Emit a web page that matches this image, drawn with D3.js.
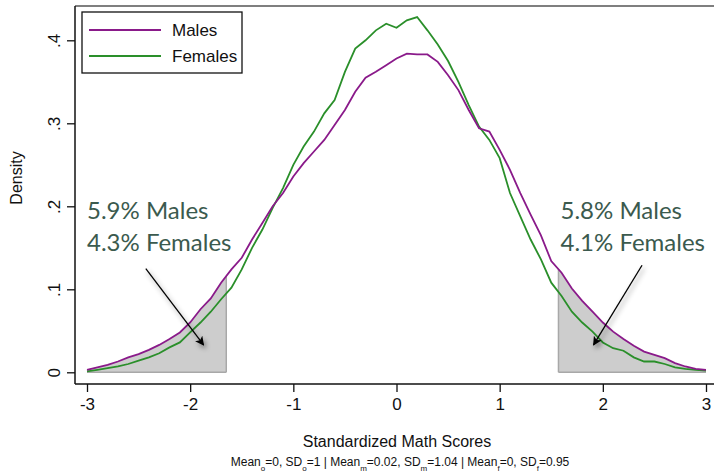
<!DOCTYPE html>
<html>
<head>
<meta charset="utf-8">
<script src="https://cdn.jsdelivr.net/npm/d3@7"></script>
<style>
  body { margin: 0; background: #fff; }
  svg { display: block; }
  .axis text { font-family: "Liberation Sans Narrow", "Arial Narrow", "Liberation Sans", sans-serif; }
</style>
</head>
<body>
<div id="vis-holder"></div>
<script>
// Chart size
const width = 715;
const height = 474;

// Density values, x from -3 to 3 in steps of 0.1
const scores = d3.range(61).map(i => -3 + i * 0.1);
const males = [
  0.003, 0.006, 0.009, 0.013, 0.018, 0.022, 0.027, 0.033, 0.040, 0.048,
  0.060, 0.076, 0.089, 0.108, 0.124, 0.138, 0.160, 0.180, 0.200, 0.216,
  0.236, 0.252, 0.266, 0.280, 0.298, 0.316, 0.338, 0.355, 0.362, 0.370,
  0.378, 0.384, 0.383, 0.383, 0.374, 0.358, 0.340, 0.316, 0.294, 0.290,
  0.268, 0.244, 0.216, 0.190, 0.165, 0.134, 0.120, 0.101, 0.086, 0.073,
  0.060, 0.049, 0.040, 0.032, 0.025, 0.021, 0.017, 0.011, 0.007, 0.004,
  0.003
];
const females = [
  0.001, 0.003, 0.005, 0.007, 0.010, 0.014, 0.018, 0.023, 0.030, 0.036,
  0.048, 0.060, 0.073, 0.088, 0.102, 0.124, 0.150, 0.172, 0.198, 0.222,
  0.250, 0.272, 0.290, 0.312, 0.328, 0.362, 0.390, 0.400, 0.412, 0.420,
  0.415, 0.424, 0.428, 0.412, 0.395, 0.375, 0.350, 0.322, 0.296, 0.280,
  0.258, 0.216, 0.188, 0.160, 0.136, 0.108, 0.092, 0.073, 0.060, 0.049,
  0.036, 0.029, 0.026, 0.018, 0.013, 0.013, 0.010, 0.006, 0.004, 0.003,
  0.002
];

// Tick labels
const xTicks = [-3, -2, -1, 0, 1, 2, 3];
const yTicks = [0, 0.1, 0.2, 0.3, 0.4];
const yTickLabels = ["0", ".1", ".2", ".3", ".4"];

// Tail cut points and the notes on them
const tailCuts = [[-3, -1.65], [1.57, 3]];
const tailNotes = [
  { lines: ["5.9% Males", "4.3% Females"], x: -3.0, from: [-2.43, 0.125], to: [-1.87, 0.033] },
  { lines: ["5.8% Males", "4.1% Females"], x: 1.59, from: [2.38, 0.129], to: [1.91, 0.033] }
];

const seriesNames = ["Males", "Females"];
const seriesColors = ["#8a1a8a", "#2a8f2a"];

const narrow = "'Liberation Sans Narrow', 'Arial Narrow', 'Liberation Sans', sans-serif";

const svg = d3.select("#vis-holder")
  .append("svg")
  .attr("width", width)
  .attr("height", height);

// Scales
const x = d3.scaleLinear().domain([-3, 3]).range([87, 706]);
const y = d3.scaleLinear().domain([0, 0.4]).range([372.3, 40.3]);

const maleData = scores.map((s, i) => ({ s: s, d: males[i] }));
const femaleData = scores.map((s, i) => ({ s: s, d: females[i] }));

// Shadow for the arrows
const defs = svg.append("defs");
const shadow = defs.append("filter").attr("id", "shadow")
  .attr("x", "-50%").attr("y", "-50%").attr("width", "200%").attr("height", "200%");
shadow.append("feDropShadow")
  .attr("dx", 2).attr("dy", 3).attr("stdDeviation", 2.5)
  .attr("flood-color", "#000").attr("flood-opacity", 0.45);

defs.append("marker")
  .attr("id", "head")
  .attr("viewBox", "0 0 10 10")
  .attr("refX", 9).attr("refY", 5)
  .attr("markerWidth", 9).attr("markerHeight", 9)
  .attr("markerUnits", "userSpaceOnUse")
  .attr("orient", "auto")
  .append("path")
  .attr("d", "M0,0 L10,5 L0,10 L2.5,5 Z")
  .attr("fill", "#000");

// Male density at a cut point on the drawn line
function maleAt(v) {
  const i = Math.min(Math.floor((v + 3) / 0.1), scores.length - 2);
  const t = (v - scores[i]) / 0.1;
  return males[i] + t * (males[i + 1] - males[i]);
}

// Shaded tails under the male curve
const area = d3.area()
  .x(d => x(d.s))
  .y0(y(0))
  .y1(d => y(d.d));

tailCuts.forEach((c, k) => {
  defs.append("clipPath").attr("id", "tail" + k)
    .append("rect")
    .attr("x", x(c[0]))
    .attr("y", 0)
    .attr("width", x(c[1]) - x(c[0]))
    .attr("height", height);

  svg.append("path")
    .datum(maleData)
    .attr("clip-path", `url(#tail${k})`)
    .attr("d", area)
    .attr("fill", "#cdcdcd");

  // grey outline along the bottom and the cut
  svg.append("line")
    .attr("x1", x(c[0])).attr("x2", x(c[1]))
    .attr("y1", y(0)).attr("y2", y(0))
    .attr("stroke", "#a8a8a8").attr("stroke-width", 1.5);
  const edge = k === 0 ? c[1] : c[0];
  svg.append("line")
    .attr("x1", x(edge)).attr("x2", x(edge))
    .attr("y1", y(0)).attr("y2", y(maleAt(edge)))
    .attr("stroke", "#a8a8a8").attr("stroke-width", 1.5);
});

// Density lines
const line = d3.line()
  .x(d => x(d.s))
  .y(d => y(d.d));

svg.append("path")
  .datum(femaleData)
  .attr("d", line)
  .attr("fill", "none")
  .attr("stroke", seriesColors[1])
  .attr("stroke-width", 1.8);

svg.append("path")
  .datum(maleData)
  .attr("d", line)
  .attr("fill", "none")
  .attr("stroke", seriesColors[0])
  .attr("stroke-width", 1.8);

// Frame: top line, y axis, x axis
svg.append("line")
  .attr("x1", 75).attr("x2", 714).attr("y1", 6).attr("y2", 6)
  .attr("stroke", "#555").attr("stroke-width", 1.5);

const xAxis = svg.append("g")
  .attr("class", "axis")
  .attr("transform", "translate(0,384)")
  .call(d3.axisBottom(x).tickValues(xTicks).tickSize(8).tickSizeOuter(0)
    .tickFormat(d => String(d)));
xAxis.select(".domain").attr("d", "M75,0H714").attr("stroke", "#111").attr("stroke-width", 1.5);
xAxis.selectAll(".tick line").attr("stroke", "#111").attr("stroke-width", 1.3);
xAxis.selectAll(".tick text")
  .attr("y", 14).attr("font-size", 17).attr("fill", "#111");

const yAxis = svg.append("g")
  .attr("class", "axis")
  .attr("transform", "translate(75,0)")
  .call(d3.axisLeft(y).tickValues(yTicks).tickSize(8).tickSizeOuter(0)
    .tickFormat((d, i) => yTickLabels[i]));
yAxis.select(".domain").attr("d", "M0,6V384").attr("stroke", "#111").attr("stroke-width", 1.5);
yAxis.selectAll(".tick line").attr("stroke", "#111").attr("stroke-width", 1.3);
yAxis.selectAll(".tick text")
  .attr("x", null).attr("dy", null)
  .attr("transform", "translate(-15,0) rotate(-90)")
  .attr("text-anchor", "middle")
  .attr("font-size", 17).attr("fill", "#111");

// Axis titles
svg.append("text")
  .attr("transform", "translate(22,178) rotate(-90)")
  .attr("text-anchor", "middle")
  .attr("font-family", narrow)
  .attr("font-size", 16)
  .attr("fill", "#111")
  .text("Density");

svg.append("text")
  .attr("x", 397).attr("y", 447)
  .attr("text-anchor", "middle")
  .attr("font-family", narrow)
  .attr("font-size", 16)
  .attr("fill", "#111")
  .text("Standardized Math Scores");

// Footer with subscripts
const foot = svg.append("text")
  .attr("x", 400).attr("y", 466)
  .attr("text-anchor", "middle")
  .attr("font-family", narrow)
  .attr("font-size", 12)
  .attr("fill", "#111");
const footParts = [
  ["Mean", ""], ["o", "sub"], ["=0, SD", ""], ["o", "sub"], ["=1 | Mean", ""], ["m", "sub"],
  ["=0.02, SD", ""], ["m", "sub"], ["=1.04 | Mean", ""], ["f", "sub"], ["=0, SD", ""], ["f", "sub"], ["=0.95", ""]
];
footParts.forEach((p, i) => {
  const t = foot.append("tspan").text(p[0]);
  if (p[1] === "sub") t.attr("font-size", 8).attr("dy", 5);
  else if (i > 0) t.attr("dy", -5);
});

// Legend
const legend = svg.append("g");
legend.append("rect")
  .attr("x", 82).attr("y", 12).attr("width", 160).attr("height", 61)
  .attr("fill", "#fff").attr("stroke", "#111").attr("stroke-width", 1.3);
seriesNames.forEach((n, i) => {
  const ly = 30 + i * 26;
  legend.append("line")
    .attr("x1", 89).attr("x2", 161).attr("y1", ly).attr("y2", ly)
    .attr("stroke", seriesColors[i]).attr("stroke-width", 2.2);
  legend.append("text")
    .attr("x", 172).attr("y", ly + 6)
    .attr("font-family", narrow)
    .attr("font-size", 17)
    .attr("fill", "#111")
    .text(n);
});

// Tail notes and arrows
tailNotes.forEach(n => {
  n.lines.forEach((l, i) => {
    svg.append("text")
      .attr("x", x(n.x)).attr("y", 219 + i * 32)
      .attr("font-family", "Lato, 'Open Sans', sans-serif")
      .attr("font-size", 24)
      .attr("fill", "#3b5a4e")
      .text(l);
  });
  svg.append("line")
    .attr("x1", x(n.from[0])).attr("y1", y(n.from[1]))
    .attr("x2", x(n.to[0])).attr("y2", y(n.to[1]))
    .attr("stroke", "#000").attr("stroke-width", 1.3)
    .attr("marker-end", "url(#head)")
    .attr("filter", "url(#shadow)");
});
</script>
</body>
</html>
